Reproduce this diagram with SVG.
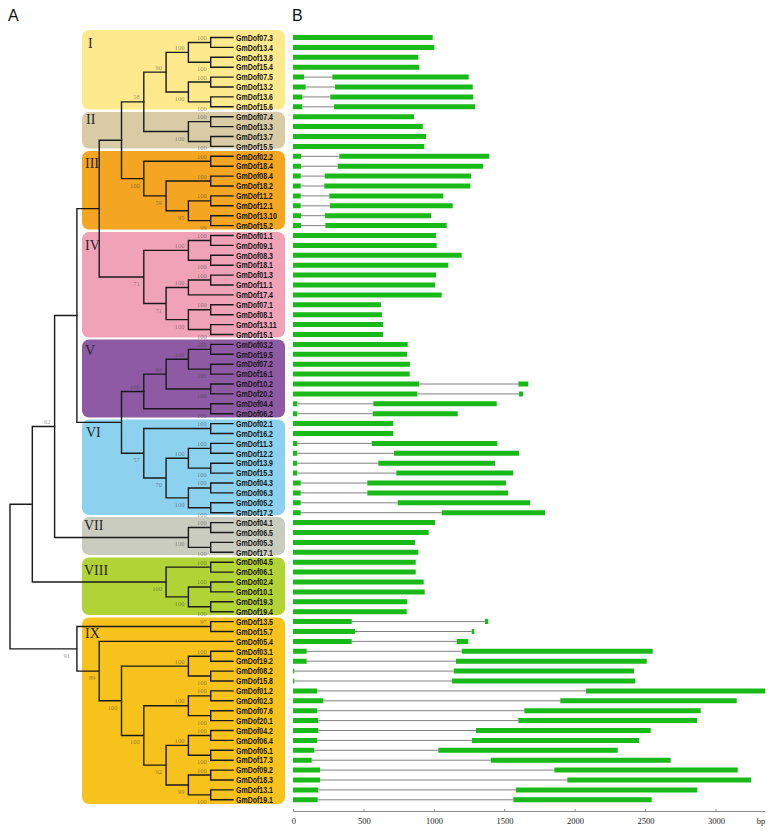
<svg xmlns="http://www.w3.org/2000/svg" width="774" height="833" viewBox="0 0 774 833">
<style>
.box{stroke:none}
.rn{font-family:"Liberation Serif","Times New Roman",serif;font-size:14px;fill:#262626}
.lb{font-family:"Liberation Sans",Arial,sans-serif;font-size:9px;font-weight:bold;fill:#161616}
.bs{font-family:"Liberation Serif","Times New Roman",serif;font-size:6.5px;fill:#333;fill-opacity:0.5;text-anchor:end}
.tr{fill:none;stroke:#1a1a1a;stroke-width:1.4;stroke-linecap:square}
.ex{fill:#19b919}
.in{fill:none;stroke:#808080;stroke-width:1}
.ax{fill:none;stroke:#8a8a8a;stroke-width:1}
.tk{font-family:"Liberation Serif","Times New Roman",serif;font-size:8.5px;fill:#222;text-anchor:middle}
.pl{font-family:"Liberation Sans",Arial,sans-serif;font-size:16px;fill:#111}
</style>
<rect width="774" height="833" fill="#fff"/>
<text class="pl" x="8" y="21">A</text>
<text class="pl" x="292" y="21">B</text>

<g id="clade-I"><rect class="box" x="82" y="30" width="203" height="79.5" rx="7" fill="#FEEA8C"/><text class="rn" x="88" y="48">I</text></g>
<g id="clade-II"><rect class="box" x="82" y="112" width="203" height="36.5" rx="7" fill="#D8CBA6"/><text class="rn" x="86" y="124">II</text></g>
<g id="clade-III"><rect class="box" x="82" y="151" width="203" height="78.5" rx="7" fill="#F4A622"/><text class="rn" x="85" y="168">III</text></g>
<g id="clade-IV"><rect class="box" x="82" y="232" width="203" height="105.5" rx="7" fill="#F0A3B7"/><text class="rn" x="85" y="250">IV</text></g>
<g id="clade-V"><rect class="box" x="82" y="339.5" width="203" height="78" rx="7" fill="#8F5AA4"/><text class="rn" x="85" y="355">V</text></g>
<g id="clade-VI"><rect class="box" x="82" y="419.5" width="203" height="95.5" rx="7" fill="#8CD1EE"/><text class="rn" x="86" y="437">VI</text></g>
<g id="clade-VII"><rect class="box" x="82" y="517" width="203" height="38" rx="7" fill="#CACCBF"/><text class="rn" x="84" y="530">VII</text></g>
<g id="clade-VIII"><rect class="box" x="82" y="557.5" width="203" height="57.5" rx="7" fill="#B1D336"/><text class="rn" x="84" y="575">VIII</text></g>
<g id="clade-IX"><rect class="box" x="82" y="617.5" width="203" height="186.5" rx="7" fill="#F8C21C"/><text class="rn" x="85" y="638">IX</text></g>

<g id="connectors" class="tr">
<path d="M233 37.5H210.7V47.4H233M233 57.3H210.7V67.2H233M210.7 42.45H188.4V62.25H210.7M233 77.1H210.7V87H233M233 96.9H210.7V106.8H233M210.7 82.05H188.4V101.85H210.7M188.4 52.35H166.1V91.95H188.4"/>
<path d="M233 116.7H210.7V126.6H233M233 136.5H210.7V146.4H233M210.7 121.65H188.4V141.45H210.7M166.1 72.15H143.8V131.55H188.4"/>
<path d="M233 156.3H210.7V166.2H233M233 176.1H210.7V186H233M233 195.9H210.7V205.8H233M233 215.7H210.7V225.6H233M210.7 200.85H188.4V220.65H210.7M210.7 181.05H166.1V210.75H188.4M210.7 161.25H143.8V195.9H166.1M143.8 101.85H121.5V178.575H143.8"/>
<path d="M233 235.5H210.7V245.4H233M233 255.3H210.7V265.2H233M210.7 240.45H188.4V260.25H210.7M233 275.1H210.7V285H233M210.7 280.05H188.4V294.9H233M233 304.8H210.7V314.7H233M233 324.6H210.7V334.5H233M210.7 309.75H188.4V329.55H210.7M188.4 287.475H166.1V319.65H188.4M188.4 250.35H143.8V303.5625H166.1M121.5 140.21H99.2V276.96H143.8"/>
<path d="M233 344.4H210.7V354.3H233M233 364.2H210.7V374.1H233M210.7 349.35H188.4V369.15H210.7M233 384H210.7V393.9H233M188.4 359.25H166.1V388.95H210.7M233 403.8H210.7V413.7H233M166.1 374.1H143.8V408.75H210.7"/>
<path d="M233 423.6H210.7V433.5H233M233 443.4H210.7V453.3H233M233 463.2H210.7V473.1H233M210.7 448.35H188.4V468.15H210.7M233 483H210.7V492.9H233M233 502.8H210.7V512.7H233M210.7 487.95H188.4V507.75H210.7M188.4 458.25H166.1V497.85H188.4M210.7 428.55H143.8V478.05H166.1M143.8 391.425H121.5V453.3H143.8M99.2 208.585H76.9V422.36H121.5"/>
<path d="M233 522.6H210.7V532.5H233M233 542.4H210.7V552.3H233M210.7 527.55H188.4V547.35H210.7M76.9 315.47H54.6V537.45H188.4"/>
<path d="M233 562.2H210.7V572.1H233M233 582H210.7V591.9H233M233 601.8H210.7V611.7H233M210.7 586.95H188.4V606.75H210.7M210.7 567.15H166.1V596.85H188.4M54.6 426.46H32.3V582H166.1"/>
<path d="M233 621.6H210.7V631.5H233M233 651.3H210.7V661.2H233M233 671.1H210.7V681H233M210.7 656.25H188.4V676.05H210.7M233 690.9H210.7V700.8H233M233 710.7H210.7V720.6H233M210.7 695.85H188.4V715.65H210.7M233 730.5H210.7V740.4H233M233 750.3H210.7V760.2H233M210.7 735.45H188.4V755.25H210.7M233 770.1H210.7V780H233M233 789.9H210.7V799.8H233M210.7 775.05H188.4V794.85H210.7M188.4 745.35H166.1V784.95H188.4M188.4 705.75H143.8V765.15H166.1M188.4 666.15H121.5V735.45H143.8M233 641.4H99.2V700.8H121.5M210.7 626.55H76.9V671.1H99.2M32.3 504.23H10V648.825H76.9"/>
</g>

<g id="bootstrap">
<text class="bs" x="206.7" y="39.95">100</text><text class="bs" x="206.7" y="71.25">100</text><text class="bs" x="184.4" y="49.85">100</text>
<text class="bs" x="206.7" y="79.55">100</text><text class="bs" x="206.7" y="110.85">100</text><text class="bs" x="184.4" y="100.85">100</text>
<text class="bs" x="162.1" y="69.65">90</text>
<text class="bs" x="206.7" y="119.15">100</text><text class="bs" x="206.7" y="150.45">100</text><text class="bs" x="184.4" y="140.55">100</text>
<text class="bs" x="139.8" y="99.35">58</text>
<text class="bs" x="206.7" y="158.75">100</text><text class="bs" x="206.7" y="178.55">100</text><text class="bs" x="206.7" y="198.35">100</text><text class="bs" x="206.7" y="229.65">99</text>
<text class="bs" x="184.4" y="219.75">95</text><text class="bs" x="162.1" y="204.9">59</text><text class="bs" x="139.8" y="187.6">100</text>
<text class="bs" x="206.7" y="237.95">100</text><text class="bs" x="206.7" y="269.25">100</text><text class="bs" x="184.4" y="247.85">100</text>
<text class="bs" x="206.7" y="277.55">100</text><text class="bs" x="184.4" y="284.98">100</text>
<text class="bs" x="206.7" y="307.25">100</text><text class="bs" x="206.7" y="338.55">100</text><text class="bs" x="184.4" y="328.65">100</text>
<text class="bs" x="162.1" y="312.56">71</text><text class="bs" x="139.8" y="285.96">71</text>
<text class="bs" x="206.7" y="346.85">100</text><text class="bs" x="206.7" y="378.15">100</text><text class="bs" x="184.4" y="356.75">100</text>
<text class="bs" x="206.7" y="397.95">100</text><text class="bs" x="162.1" y="371.6">99</text><text class="bs" x="206.7" y="417.75">100</text><text class="bs" x="139.8" y="388.93">100</text>
<text class="bs" x="206.7" y="426.05">100</text><text class="bs" x="206.7" y="445.85">100</text><text class="bs" x="206.7" y="477.15">100</text><text class="bs" x="184.4" y="455.75">100</text>
<text class="bs" x="206.7" y="485.45">100</text><text class="bs" x="206.7" y="516.75">100</text><text class="bs" x="184.4" y="506.85">100</text>
<text class="bs" x="162.1" y="487.05">70</text><text class="bs" x="139.8" y="462.3">57</text>
<text class="bs" x="50.6" y="423.96">62</text>
<text class="bs" x="206.7" y="525.05">100</text><text class="bs" x="206.7" y="556.35">100</text><text class="bs" x="184.4" y="546.45">100</text>
<text class="bs" x="206.7" y="564.65">100</text><text class="bs" x="206.7" y="584.45">100</text><text class="bs" x="206.7" y="615.75">100</text><text class="bs" x="184.4" y="605.85">100</text><text class="bs" x="162.1" y="591">100</text>
<text class="bs" x="206.7" y="624.05">97</text>
<text class="bs" x="206.7" y="653.75">100</text><text class="bs" x="206.7" y="685.05">100</text><text class="bs" x="184.4" y="663.65">100</text>
<text class="bs" x="206.7" y="693.35">100</text><text class="bs" x="206.7" y="724.65">100</text><text class="bs" x="184.4" y="703.25">100</text>
<text class="bs" x="206.7" y="732.95">100</text><text class="bs" x="206.7" y="764.25">100</text><text class="bs" x="184.4" y="742.85">100</text>
<text class="bs" x="206.7" y="772.55">100</text><text class="bs" x="206.7" y="803.85">100</text><text class="bs" x="184.4" y="793.95">99</text>
<text class="bs" x="162.1" y="774.15">92</text><text class="bs" x="139.8" y="744.45">100</text><text class="bs" x="117.5" y="709.8">100</text>
<text class="bs" x="95.2" y="680.1">89</text><text class="bs" x="70" y="657.8">91</text>
</g>

<g id="genes">
<g id="GmDof07.3"><text class="lb" transform="matrix(0.78 0 0 1 236 40.7)">GmDof07.3</text><path class="ex" d="M293 35H432.7v5H293z"/></g>
<g id="GmDof13.4"><text class="lb" transform="matrix(0.78 0 0 1 236 50.6)">GmDof13.4</text><path class="ex" d="M293 44.9H434.3v5H293z"/></g>
<g id="GmDof13.8"><text class="lb" transform="matrix(0.78 0 0 1 236 60.5)">GmDof13.8</text><path class="ex" d="M293 54.8H418.3v5H293z"/></g>
<g id="GmDof15.4"><text class="lb" transform="matrix(0.78 0 0 1 236 70.4)">GmDof15.4</text><path class="ex" d="M293 64.7H419.3v5H293z"/></g>
<g id="GmDof07.5"><text class="lb" transform="matrix(0.78 0 0 1 236 80.3)">GmDof07.5</text><path class="in" d="M304 77.1H332.3"/><path class="ex" d="M293 74.6H304v5H293zM332.3 74.6H468.7v5H332.3z"/></g>
<g id="GmDof13.2"><text class="lb" transform="matrix(0.78 0 0 1 236 90.2)">GmDof13.2</text><path class="in" d="M305.7 87H335"/><path class="ex" d="M293 84.5H305.7v5H293zM335 84.5H472.7v5H335z"/></g>
<g id="GmDof13.6"><text class="lb" transform="matrix(0.78 0 0 1 236 100.1)">GmDof13.6</text><path class="in" d="M302.3 96.9H330.3"/><path class="ex" d="M293 94.4H302.3v5H293zM330.3 94.4H473.3v5H330.3z"/></g>
<g id="GmDof15.6"><text class="lb" transform="matrix(0.78 0 0 1 236 110)">GmDof15.6</text><path class="in" d="M302.3 106.8H334"/><path class="ex" d="M293 104.3H302.3v5H293zM334 104.3H475v5H334z"/></g>
<g id="GmDof07.4"><text class="lb" transform="matrix(0.78 0 0 1 236 119.9)">GmDof07.4</text><path class="ex" d="M293 114.2H414v5H293z"/></g>
<g id="GmDof13.3"><text class="lb" transform="matrix(0.78 0 0 1 236 129.8)">GmDof13.3</text><path class="ex" d="M293 124.1H422.7v5H293z"/></g>
<g id="GmDof13.7"><text class="lb" transform="matrix(0.78 0 0 1 236 139.7)">GmDof13.7</text><path class="ex" d="M293 134H426v5H293z"/></g>
<g id="GmDof15.5"><text class="lb" transform="matrix(0.78 0 0 1 236 149.6)">GmDof15.5</text><path class="ex" d="M293 143.9H424.3v5H293z"/></g>
<g id="GmDof02.2"><text class="lb" transform="matrix(0.78 0 0 1 236 159.5)">GmDof02.2</text><path class="in" d="M301 156.3H339.3"/><path class="ex" d="M293 153.8H301v5H293zM339.3 153.8H489.3v5H339.3z"/></g>
<g id="GmDof18.4"><text class="lb" transform="matrix(0.78 0 0 1 236 169.4)">GmDof18.4</text><path class="in" d="M301 166.2H337.7"/><path class="ex" d="M293 163.7H301v5H293zM337.7 163.7H483v5H337.7z"/></g>
<g id="GmDof08.4"><text class="lb" transform="matrix(0.78 0 0 1 236 179.3)">GmDof08.4</text><path class="in" d="M300.7 176.1H324.7"/><path class="ex" d="M293 173.6H300.7v5H293zM324.7 173.6H471v5H324.7z"/></g>
<g id="GmDof18.2"><text class="lb" transform="matrix(0.78 0 0 1 236 189.2)">GmDof18.2</text><path class="in" d="M300.7 186H324.3"/><path class="ex" d="M293 183.5H300.7v5H293zM324.3 183.5H470.3v5H324.3z"/></g>
<g id="GmDof11.2"><text class="lb" transform="matrix(0.78 0 0 1 236 199.1)">GmDof11.2</text><path class="in" d="M300.7 195.9H329.3"/><path class="ex" d="M293 193.4H300.7v5H293zM329.3 193.4H443.3v5H329.3z"/></g>
<g id="GmDof12.1"><text class="lb" transform="matrix(0.78 0 0 1 236 209)">GmDof12.1</text><path class="in" d="M300.7 205.8H330"/><path class="ex" d="M293 203.3H300.7v5H293zM330 203.3H452.7v5H330z"/></g>
<g id="GmDof13.10"><text class="lb" transform="matrix(0.78 0 0 1 236 218.9)">GmDof13.10</text><path class="in" d="M301 215.7H325"/><path class="ex" d="M293 213.2H301v5H293zM325 213.2H431.3v5H325z"/></g>
<g id="GmDof15.2"><text class="lb" transform="matrix(0.78 0 0 1 236 228.8)">GmDof15.2</text><path class="in" d="M301 225.6H325.3"/><path class="ex" d="M293 223.1H301v5H293zM325.3 223.1H446.7v5H325.3z"/></g>
<g id="GmDof01.1"><text class="lb" transform="matrix(0.78 0 0 1 236 238.7)">GmDof01.1</text><path class="ex" d="M293 233H436v5H293z"/></g>
<g id="GmDof09.1"><text class="lb" transform="matrix(0.78 0 0 1 236 248.6)">GmDof09.1</text><path class="ex" d="M293 242.9H436.7v5H293z"/></g>
<g id="GmDof08.3"><text class="lb" transform="matrix(0.78 0 0 1 236 258.5)">GmDof08.3</text><path class="ex" d="M293 252.8H461.7v5H293z"/></g>
<g id="GmDof18.1"><text class="lb" transform="matrix(0.78 0 0 1 236 268.4)">GmDof18.1</text><path class="ex" d="M293 262.7H448.3v5H293z"/></g>
<g id="GmDof01.3"><text class="lb" transform="matrix(0.78 0 0 1 236 278.3)">GmDof01.3</text><path class="ex" d="M293 272.6H436v5H293z"/></g>
<g id="GmDof11.1"><text class="lb" transform="matrix(0.78 0 0 1 236 288.2)">GmDof11.1</text><path class="ex" d="M293 282.5H435v5H293z"/></g>
<g id="GmDof17.4"><text class="lb" transform="matrix(0.78 0 0 1 236 298.1)">GmDof17.4</text><path class="ex" d="M293 292.4H441.7v5H293z"/></g>
<g id="GmDof07.1"><text class="lb" transform="matrix(0.78 0 0 1 236 308)">GmDof07.1</text><path class="ex" d="M293 302.3H381v5H293z"/></g>
<g id="GmDof08.1"><text class="lb" transform="matrix(0.78 0 0 1 236 317.9)">GmDof08.1</text><path class="ex" d="M293 312.2H382v5H293z"/></g>
<g id="GmDof13.11"><text class="lb" transform="matrix(0.78 0 0 1 236 327.8)">GmDof13.11</text><path class="ex" d="M293 322.1H383v5H293z"/></g>
<g id="GmDof15.1"><text class="lb" transform="matrix(0.78 0 0 1 236 337.7)">GmDof15.1</text><path class="ex" d="M293 332H383v5H293z"/></g>
<g id="GmDof03.2"><text class="lb" transform="matrix(0.78 0 0 1 236 347.6)">GmDof03.2</text><path class="ex" d="M293 341.9H407.7v5H293z"/></g>
<g id="GmDof19.5"><text class="lb" transform="matrix(0.78 0 0 1 236 357.5)">GmDof19.5</text><path class="ex" d="M293 351.8H407v5H293z"/></g>
<g id="GmDof07.2"><text class="lb" transform="matrix(0.78 0 0 1 236 367.4)">GmDof07.2</text><path class="ex" d="M293 361.7H410v5H293z"/></g>
<g id="GmDof16.1"><text class="lb" transform="matrix(0.78 0 0 1 236 377.3)">GmDof16.1</text><path class="ex" d="M293 371.6H409.7v5H293z"/></g>
<g id="GmDof10.2"><text class="lb" transform="matrix(0.78 0 0 1 236 387.2)">GmDof10.2</text><path class="in" d="M419.3 384H518.3"/><path class="ex" d="M293 381.5H419.3v5H293zM518.3 381.5H528.3v5H518.3z"/></g>
<g id="GmDof20.2"><text class="lb" transform="matrix(0.78 0 0 1 236 397.1)">GmDof20.2</text><path class="in" d="M417.3 393.9H519"/><path class="ex" d="M293 391.4H417.3v5H293zM519 391.4H523v5H519z"/></g>
<g id="GmDof04.4"><text class="lb" transform="matrix(0.78 0 0 1 236 407)">GmDof04.4</text><path class="in" d="M297.3 403.8H373.3"/><path class="ex" d="M293 401.3H297.3v5H293zM373.3 401.3H496.7v5H373.3z"/></g>
<g id="GmDof06.2"><text class="lb" transform="matrix(0.78 0 0 1 236 416.9)">GmDof06.2</text><path class="in" d="M297.3 413.7H372.7"/><path class="ex" d="M293 411.2H297.3v5H293zM372.7 411.2H457.7v5H372.7z"/></g>
<g id="GmDof02.1"><text class="lb" transform="matrix(0.78 0 0 1 236 426.8)">GmDof02.1</text><path class="ex" d="M293 421.1H393.3v5H293z"/></g>
<g id="GmDof16.2"><text class="lb" transform="matrix(0.78 0 0 1 236 436.7)">GmDof16.2</text><path class="ex" d="M293 431H393.3v5H293z"/></g>
<g id="GmDof11.3"><text class="lb" transform="matrix(0.78 0 0 1 236 446.6)">GmDof11.3</text><path class="in" d="M297.3 443.4H371.7"/><path class="ex" d="M293 440.9H297.3v5H293zM371.7 440.9H497.3v5H371.7z"/></g>
<g id="GmDof12.2"><text class="lb" transform="matrix(0.78 0 0 1 236 456.5)">GmDof12.2</text><path class="in" d="M297.3 453.3H394"/><path class="ex" d="M293 450.8H297.3v5H293zM394 450.8H519v5H394z"/></g>
<g id="GmDof13.9"><text class="lb" transform="matrix(0.78 0 0 1 236 466.4)">GmDof13.9</text><path class="in" d="M297.3 463.2H378.3"/><path class="ex" d="M293 460.7H297.3v5H293zM378.3 460.7H495v5H378.3z"/></g>
<g id="GmDof15.3"><text class="lb" transform="matrix(0.78 0 0 1 236 476.3)">GmDof15.3</text><path class="in" d="M297.3 473.1H396.3"/><path class="ex" d="M293 470.6H297.3v5H293zM396.3 470.6H513.3v5H396.3z"/></g>
<g id="GmDof04.3"><text class="lb" transform="matrix(0.78 0 0 1 236 486.2)">GmDof04.3</text><path class="in" d="M300.7 483H367.3"/><path class="ex" d="M293 480.5H300.7v5H293zM367.3 480.5H506v5H367.3z"/></g>
<g id="GmDof06.3"><text class="lb" transform="matrix(0.78 0 0 1 236 496.1)">GmDof06.3</text><path class="in" d="M300.7 492.9H367.3"/><path class="ex" d="M293 490.4H300.7v5H293zM367.3 490.4H508v5H367.3z"/></g>
<g id="GmDof05.2"><text class="lb" transform="matrix(0.78 0 0 1 236 506)">GmDof05.2</text><path class="in" d="M300.7 502.8H397.7"/><path class="ex" d="M293 500.3H300.7v5H293zM397.7 500.3H530v5H397.7z"/></g>
<g id="GmDof17.2"><text class="lb" transform="matrix(0.78 0 0 1 236 515.9)">GmDof17.2</text><path class="in" d="M300.7 512.7H441.7"/><path class="ex" d="M293 510.2H300.7v5H293zM441.7 510.2H545v5H441.7z"/></g>
<g id="GmDof04.1"><text class="lb" transform="matrix(0.78 0 0 1 236 525.8)">GmDof04.1</text><path class="ex" d="M293 520.1H435v5H293z"/></g>
<g id="GmDof06.5"><text class="lb" transform="matrix(0.78 0 0 1 236 535.7)">GmDof06.5</text><path class="ex" d="M293 530H428.7v5H293z"/></g>
<g id="GmDof05.3"><text class="lb" transform="matrix(0.78 0 0 1 236 545.6)">GmDof05.3</text><path class="ex" d="M293 539.9H415v5H293z"/></g>
<g id="GmDof17.1"><text class="lb" transform="matrix(0.78 0 0 1 236 555.5)">GmDof17.1</text><path class="ex" d="M293 549.8H418.3v5H293z"/></g>
<g id="GmDof04.5"><text class="lb" transform="matrix(0.78 0 0 1 236 565.4)">GmDof04.5</text><path class="ex" d="M293 559.7H415.7v5H293z"/></g>
<g id="GmDof06.1"><text class="lb" transform="matrix(0.78 0 0 1 236 575.3)">GmDof06.1</text><path class="ex" d="M293 569.6H415.7v5H293z"/></g>
<g id="GmDof02.4"><text class="lb" transform="matrix(0.78 0 0 1 236 585.2)">GmDof02.4</text><path class="ex" d="M293 579.5H423.7v5H293z"/></g>
<g id="GmDof10.1"><text class="lb" transform="matrix(0.78 0 0 1 236 595.1)">GmDof10.1</text><path class="ex" d="M293 589.4H424.7v5H293z"/></g>
<g id="GmDof19.3"><text class="lb" transform="matrix(0.78 0 0 1 236 605)">GmDof19.3</text><path class="ex" d="M293 599.3H407.3v5H293z"/></g>
<g id="GmDof19.4"><text class="lb" transform="matrix(0.78 0 0 1 236 614.9)">GmDof19.4</text><path class="ex" d="M293 609.2H406.7v5H293z"/></g>
<g id="GmDof13.5"><text class="lb" transform="matrix(0.78 0 0 1 236 624.8)">GmDof13.5</text><path class="in" d="M351.7 621.6H485"/><path class="ex" d="M293 619.1H351.7v5H293zM485 619.1H488.3v5H485z"/></g>
<g id="GmDof15.7"><text class="lb" transform="matrix(0.78 0 0 1 236 634.7)">GmDof15.7</text><path class="in" d="M355 631.5H471.7"/><path class="ex" d="M293 629H355v5H293zM471.7 629H474.3v5H471.7z"/></g>
<g id="GmDof05.4"><text class="lb" transform="matrix(0.78 0 0 1 236 644.6)">GmDof05.4</text><path class="in" d="M351.7 641.4H456.7"/><path class="ex" d="M293 638.9H351.7v5H293zM456.7 638.9H468.3v5H456.7z"/></g>
<g id="GmDof03.1"><text class="lb" transform="matrix(0.78 0 0 1 236 654.5)">GmDof03.1</text><path class="in" d="M306.7 651.3H461.7"/><path class="ex" d="M293 648.8H306.7v5H293zM461.7 648.8H652.7v5H461.7z"/></g>
<g id="GmDof19.2"><text class="lb" transform="matrix(0.78 0 0 1 236 664.4)">GmDof19.2</text><path class="in" d="M306.7 661.2H456"/><path class="ex" d="M293 658.7H306.7v5H293zM456 658.7H646.7v5H456z"/></g>
<g id="GmDof08.2"><text class="lb" transform="matrix(0.78 0 0 1 236 674.3)">GmDof08.2</text><path class="in" d="M294.3 671.1H453.7"/><path class="ex" d="M293 668.6H294.3v5H293zM453.7 668.6H634v5H453.7z"/></g>
<g id="GmDof15.8"><text class="lb" transform="matrix(0.78 0 0 1 236 684.2)">GmDof15.8</text><path class="in" d="M294.3 681H452"/><path class="ex" d="M293 678.5H294.3v5H293zM452 678.5H635.3v5H452z"/></g>
<g id="GmDof01.2"><text class="lb" transform="matrix(0.78 0 0 1 236 694.1)">GmDof01.2</text><path class="in" d="M317.3 690.9H586"/><path class="ex" d="M293 688.4H317.3v5H293zM586 688.4H765v5H586z"/></g>
<g id="GmDof02.3"><text class="lb" transform="matrix(0.78 0 0 1 236 704)">GmDof02.3</text><path class="in" d="M323.3 700.8H560.3"/><path class="ex" d="M293 698.3H323.3v5H293zM560.3 698.3H736.7v5H560.3z"/></g>
<g id="GmDof07.6"><text class="lb" transform="matrix(0.78 0 0 1 236 713.9)">GmDof07.6</text><path class="in" d="M317.3 710.7H524.3"/><path class="ex" d="M293 708.2H317.3v5H293zM524.3 708.2H700.7v5H524.3z"/></g>
<g id="GmDof20.1"><text class="lb" transform="matrix(0.78 0 0 1 236 723.8)">GmDof20.1</text><path class="in" d="M318.3 720.6H518.3"/><path class="ex" d="M293 718.1H318.3v5H293zM518.3 718.1H697v5H518.3z"/></g>
<g id="GmDof04.2"><text class="lb" transform="matrix(0.78 0 0 1 236 733.7)">GmDof04.2</text><path class="in" d="M318.3 730.5H476"/><path class="ex" d="M293 728H318.3v5H293zM476 728H650.7v5H476z"/></g>
<g id="GmDof06.4"><text class="lb" transform="matrix(0.78 0 0 1 236 743.6)">GmDof06.4</text><path class="in" d="M317.3 740.4H472"/><path class="ex" d="M293 737.9H317.3v5H293zM472 737.9H639v5H472z"/></g>
<g id="GmDof05.1"><text class="lb" transform="matrix(0.78 0 0 1 236 753.5)">GmDof05.1</text><path class="in" d="M314.3 750.3H438.3"/><path class="ex" d="M293 747.8H314.3v5H293zM438.3 747.8H617.7v5H438.3z"/></g>
<g id="GmDof17.3"><text class="lb" transform="matrix(0.78 0 0 1 236 763.4)">GmDof17.3</text><path class="in" d="M311.7 760.2H490.7"/><path class="ex" d="M293 757.7H311.7v5H293zM490.7 757.7H670.7v5H490.7z"/></g>
<g id="GmDof09.2"><text class="lb" transform="matrix(0.78 0 0 1 236 773.3)">GmDof09.2</text><path class="in" d="M320 770.1H554.3"/><path class="ex" d="M293 767.6H320v5H293zM554.3 767.6H737.7v5H554.3z"/></g>
<g id="GmDof18.3"><text class="lb" transform="matrix(0.78 0 0 1 236 783.2)">GmDof18.3</text><path class="in" d="M320 780H567.3"/><path class="ex" d="M293 777.5H320v5H293zM567.3 777.5H751v5H567.3z"/></g>
<g id="GmDof13.1"><text class="lb" transform="matrix(0.78 0 0 1 236 793.1)">GmDof13.1</text><path class="in" d="M318.3 789.9H516"/><path class="ex" d="M293 787.4H318.3v5H293zM516 787.4H697.3v5H516z"/></g>
<g id="GmDof19.1"><text class="lb" transform="matrix(0.78 0 0 1 236 803)">GmDof19.1</text><path class="in" d="M317.7 799.8H513.3"/><path class="ex" d="M293 797.3H317.7v5H293zM513.3 797.3H651.7v5H513.3z"/></g>
</g>

<g id="axis">
<path class="ax" d="M293.5 811.5H765M293.5 809V811.5M363.9 809V811.5M434.3 809V811.5M504.7 809V811.5M575.1 809V811.5M645.5 809V811.5M715.9 809V811.5"/>
<text class="tk" x="293.8" y="823.5">0</text>
<text class="tk" x="364.4" y="823.5">500</text>
<text class="tk" x="434.5" y="823.5">1000</text>
<text class="tk" x="505" y="823.5">1500</text>
<text class="tk" x="575.5" y="823.5">2000</text>
<text class="tk" x="646" y="823.5">2500</text>
<text class="tk" x="716.5" y="823.5">3000</text>
<text class="tk" x="761" y="823.5">bp</text>
</g>
</svg>
